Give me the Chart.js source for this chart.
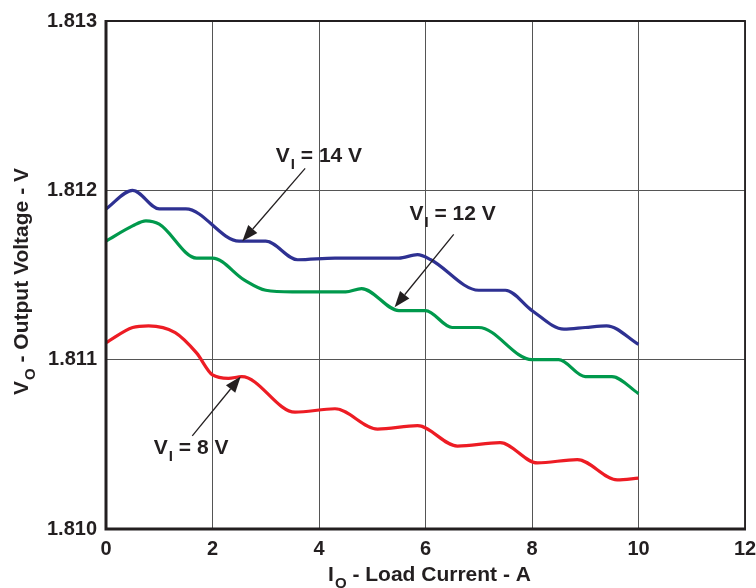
<!DOCTYPE html>
<html><head><meta charset="utf-8">
<script src="https://cdn.jsdelivr.net/npm/chart.js@4"></script>
<style>html,body{margin:0;padding:0;background:#fff}#wrap{width:756px;height:588px;position:relative}</style>
</head><body><div id="wrap"><canvas id="c" width="756" height="588"></canvas></div>
<script>
const xTicks = [0, 2, 4, 6, 8, 10, 12];
const yTicks = [1.810, 1.811, 1.812, 1.813];

const x14 = [0, 0.5, 1.0, 1.5, 2.5, 3.0, 3.6, 4.3, 5.5, 5.85, 6.1, 7.0, 7.5, 8.0, 8.6, 9.0, 9.4, 10];
const v14 = [1.81189, 1.81200, 1.81189, 1.81189, 1.81170, 1.81170, 1.81159, 1.81160, 1.81160, 1.81162, 1.81159, 1.81141, 1.81141, 1.81129, 1.81118, 1.81119, 1.81120, 1.81109];

const x12 = [0, 0.5, 0.75, 1.0, 1.7, 2.0, 2.6, 3.0, 3.5, 4.5, 4.8, 5.5, 6.0, 6.5, 7.0, 8.0, 8.5, 9.0, 9.5, 10];
const v12 = [1.81170, 1.81179, 1.81182, 1.81180, 1.81160, 1.81160, 1.81147, 1.81141, 1.81140, 1.81140, 1.81142, 1.81129, 1.81129, 1.81119, 1.81119, 1.81100, 1.81100, 1.81090, 1.81090, 1.81080];

const x8 = [0, 0.5, 0.8, 1.3, 1.7, 2.0, 2.3, 2.55, 3.55, 4.3, 5.1, 5.85, 6.6, 7.4, 8.1, 8.85, 9.6, 10];
const v8 = [1.81110, 1.81119, 1.81120, 1.81116, 1.81104, 1.81091, 1.81089, 1.81090, 1.81069, 1.81071, 1.81059, 1.81061, 1.81049, 1.81051, 1.81039, 1.81041, 1.81029, 1.81030];

const seriesNames = ['VI = 14 V', 'VI = 12 V', 'VI = 8 V'];
const colors = ['#2E3192', '#00994C', '#ED1C24'];

// annotation: label centre, arrow tail and tip in data units
const notes = [
  {main: 'V', sub: 'I', rest: ' = 14 V', lx: 3.99, ly: 1.81220, tx: 3.74, ty: 1.81213, hx: 2.56, hy: 1.81170},
  {main: 'V', sub: 'I', rest: ' = 12 V', lx: 6.50, ly: 1.81186, tx: 6.53, ty: 1.81174, hx: 5.42, hy: 1.81131},
  {main: 'V', sub: 'I', rest: ' = 8 V', lx: 1.59, ly: 1.81048, tx: 1.62, ty: 1.81055, hx: 2.53, hy: 1.81090}
];

const FONT = '"Liberation Sans", Arial, sans-serif';

function pts(xs, ys){ return xs.map((x,i)=>({x:x, y:ys[i]})); }

function drawSubText(ctx, parts, x, y, size, align){
  const subSize = Math.round(size*0.72);
  ctx.font = 'bold ' + size + 'px ' + FONT;
  const w1 = ctx.measureText(parts.main).width;
  ctx.font = 'bold ' + subSize + 'px ' + FONT;
  const w2 = ctx.measureText(parts.sub).width;
  ctx.font = 'bold ' + size + 'px ' + FONT;
  const w3 = ctx.measureText(parts.rest).width;
  const total = w1 + w2 + w3;
  let sx = align === 'center' ? x - total/2 : x;
  ctx.textAlign = 'left';
  ctx.textBaseline = 'middle';
  ctx.fillText(parts.main, sx, y);
  ctx.font = 'bold ' + subSize + 'px ' + FONT;
  ctx.fillText(parts.sub, sx + w1 + 1, y + size*0.42);
  ctx.font = 'bold ' + size + 'px ' + FONT;
  ctx.fillText(parts.rest, sx + w1 + w2 + 1, y);
}

const overlay = {
  id: 'overlay',
  afterDatasetsDraw(chart){
    const ctx = chart.ctx, xs = chart.scales.x, ys = chart.scales.y;
    ctx.save();
    ctx.fillStyle = '#231F20';
    ctx.strokeStyle = '#231F20';
    notes.forEach(n=>{
      const tx = xs.getPixelForValue(n.tx), ty = ys.getPixelForValue(n.ty);
      const hx = xs.getPixelForValue(n.hx), hy = ys.getPixelForValue(n.hy);
      const ang = Math.atan2(hy-ty, hx-tx);
      const L = 16, W = 6;
      const bx = hx - L*Math.cos(ang), by = hy - L*Math.sin(ang);
      ctx.lineWidth = 1.3;
      ctx.beginPath(); ctx.moveTo(tx,ty); ctx.lineTo(bx,by); ctx.stroke();
      ctx.beginPath();
      ctx.moveTo(hx,hy);
      ctx.lineTo(bx + W*Math.sin(ang), by - W*Math.cos(ang));
      ctx.lineTo(bx - W*Math.sin(ang), by + W*Math.cos(ang));
      ctx.closePath(); ctx.fill();
      const lx = xs.getPixelForValue(n.lx), ly = ys.getPixelForValue(n.ly);
      drawSubText(ctx, n, lx, ly, 21, 'center');
    });
    // axis titles
    drawSubText(ctx, {main:'I', sub:'O', rest:' - Load Current - A'}, 429, 575, 21, 'center');
    ctx.translate(22, 282);
    ctx.rotate(-Math.PI/2);
    drawSubText(ctx, {main:'V', sub:'O', rest:' - Output Voltage - V'}, 0, 0, 21, 'center');
    ctx.restore();
  },
  afterDraw(chart){
    const ctx = chart.ctx, a = chart.chartArea;
    ctx.save();
    ctx.strokeStyle = '#231F20';
    ctx.lineWidth = 3;
    ctx.beginPath();
    ctx.moveTo(a.left, a.top-1); ctx.lineTo(a.left, a.bottom); ctx.lineTo(a.right+1, a.bottom);
    ctx.stroke();
    ctx.lineWidth = 1.8;
    ctx.beginPath();
    ctx.moveTo(a.left, a.top); ctx.lineTo(a.right, a.top); ctx.lineTo(a.right, a.bottom);
    ctx.stroke();
    ctx.restore();
  }
};

const datasets = [[x14,v14],[x12,v12],[x8,v8]].map((d,i)=>({
  label: seriesNames[i],
  data: pts(d[0], d[1]),
  borderColor: colors[i],
  backgroundColor: colors[i],
  borderWidth: 3.2,
  pointRadius: 0,
  cubicInterpolationMode: 'monotone',
  fill: false
}));

new Chart(document.getElementById('c'), {
  type: 'line',
  data: {datasets},
  options: {
    responsive: false,
    animation: false,
    layout: {padding: {top: 21, right: 11, left: 0, bottom: 0}},
    plugins: {legend: {display: false}, tooltip: {enabled: false}},
    scales: {
      x: {
        type: 'linear', min: 0, max: 12,
        afterBuildTicks(s){ s.ticks = xTicks.map(v=>({value:v})); },
        afterFit(s){ s.height = 59; s.paddingLeft = 0; s.paddingRight = 0; },
        grid: {color: '#555', lineWidth: 1, drawTicks: false},
        border: {display: false},
        ticks: {color: '#231F20', padding: 8, maxRotation: 0, font: {family: FONT, size: 20, weight: 'bold'}, callback: v=>String(v)}
      },
      y: {
        type: 'linear', min: 1.810, max: 1.813,
        afterBuildTicks(s){ s.ticks = yTicks.map(v=>({value:v})); },
        afterFit(s){ s.width = 106; s.paddingTop = 0; s.paddingBottom = 0; },
        grid: {color: '#555', lineWidth: 1, drawTicks: false},
        border: {display: false},
        ticks: {color: '#231F20', padding: 9, font: {family: FONT, size: 20, weight: 'bold'}, callback: v=>Number(v).toFixed(3)}
      }
    }
  },
  plugins: [overlay]
});
</script></body></html>
